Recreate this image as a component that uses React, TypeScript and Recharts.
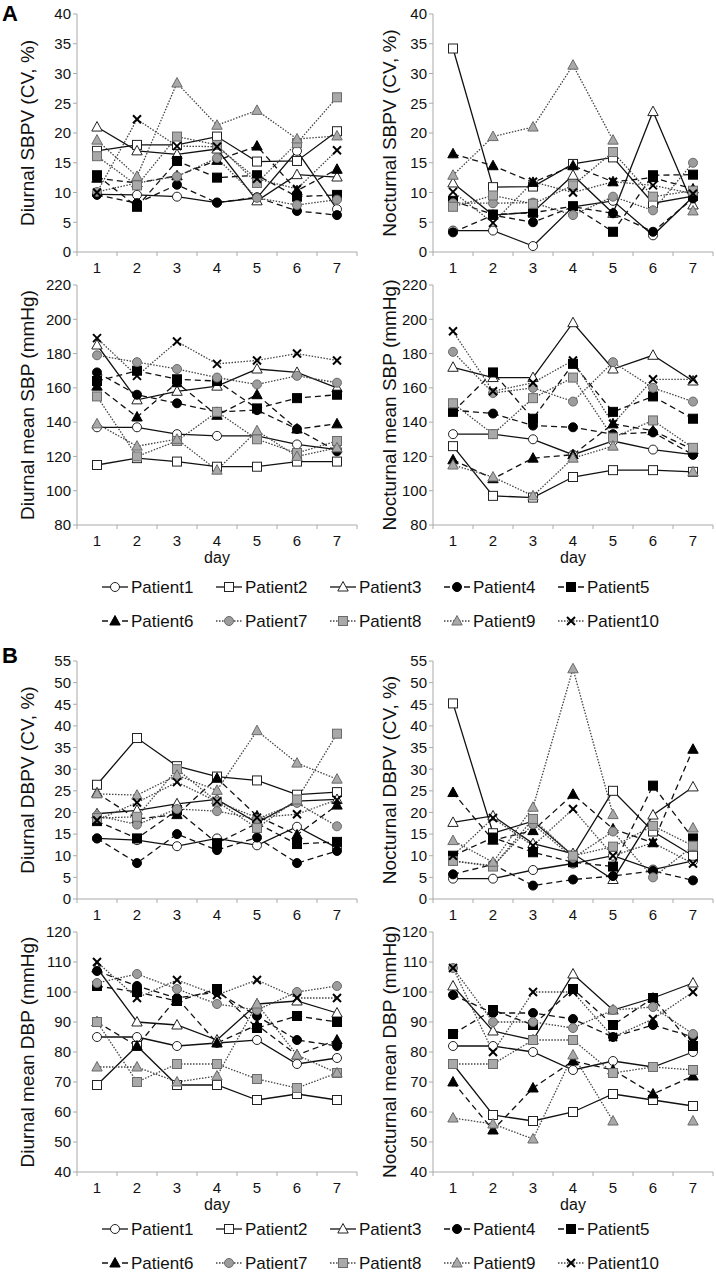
import React from "react";
import { Line, LineChart, XAxis, YAxis } from "recharts";

type Val = number | null;

const days = ["1", "2", "3", "4", "5", "6", "7"];
const patients = [
  "Patient1",
  "Patient2",
  "Patient3",
  "Patient4",
  "Patient5",
  "Patient6",
  "Patient7",
  "Patient8",
  "Patient9",
  "Patient10",
];

// A: systolic BP, rows = Patient1..Patient10, columns = day 1..7
const diurnalSBPV: Val[][] = [
  [9.7, 9.6, 9.3, 8.3, 9.1, 17.0, 7.2],
  [17.0, 18.0, 18.0, 19.4, 15.2, 15.3, 20.3],
  [21.0, 17.0, 16.4, 17.3, 8.6, 13.0, 12.6],
  [9.6, 8.2, 11.3, 8.3, 9.2, 6.9, 6.2],
  [12.9, 7.6, 15.3, 12.5, 12.9, 9.3, 9.6],
  [12.4, 11.6, 12.8, 15.4, 17.8, 10.3, 13.9],
  [10.1, 11.6, 12.7, 15.8, 9.1, 7.9, 8.8],
  [16.1, 11.2, 19.4, 18.0, 11.6, 18.3, 26.0],
  [18.8, 12.7, 28.4, 21.3, 23.8, 19.0, 19.5],
  [10.0, 22.3, 17.8, 17.7, 12.3, 10.6, 17.1],
];

const nocturnalSBPV: Val[][] = [
  [3.6, 3.6, 1.0, 7.6, 8.6, 2.8, 9.3],
  [34.2, 10.9, 11.0, 14.8, 15.9, 8.2, 9.4],
  [11.6, 6.2, 6.7, 12.9, 6.5, 23.6, 7.9],
  [3.3, 6.2, 5.0, 7.6, 6.5, 3.4, 9.0],
  [8.6, 6.3, 6.6, 7.7, 3.4, 12.9, 13.0],
  [16.5, 14.5, 11.7, 14.5, 11.8, 12.5, 10.6],
  [8.2, 8.2, 8.3, 6.2, 9.3, 7.0, 15.0],
  [7.6, 9.5, 8.1, 11.2, 16.8, 9.3, 10.3],
  [12.9, 19.4, 21.0, 31.4, 18.8, null, 6.9],
  [10.1, 4.9, 11.8, 10.0, 11.8, 11.2, 9.8],
];

const diurnalMeanSBP: Val[][] = [
  [137, 137, 133, 132, 132, 127, 124],
  [115, 119, 117, 114, 114, 117, 117],
  [185, 153, 158, 161, 171, 169, 160],
  [169, 156, 151, 146, 147, 136, 123],
  [164, 170, 165, 164, 148, 154, 156],
  [161, 143, 163, 144, 156, 136, 139],
  [179, 175, 171, 166, 162, 167, 163],
  [155, 120, 129, 146, 130, 122, 129],
  [139, 126, 130, 112, 135, 120, 125],
  [189, 167, 187, 174, 176, 180, 176],
];

const nocturnalMeanSBP: Val[][] = [
  [133, 133, 130, 121, 129, 124, 121],
  [126, 97, 96, 108, 112, 112, 111],
  [172, 166, 166, 198, 171, 179, 164],
  [147, 145, 138, 137, 133, 134, 121],
  [146, 169, 142, 174, 146, 155, 142],
  [118, 107, 119, 121, 139, 135, 124],
  [181, 157, 160, 152, 175, 160, 152],
  [151, 133, 154, 166, 131, 141, 125],
  [115, 108, 97, 119, 126, null, 111],
  [193, 158, 163, 176, 139, 165, 165],
];

// B: diastolic BP
const diurnalDBPV: Val[][] = [
  [14.0, 13.6, 12.2, 14.0, 12.4, 16.7, 11.8],
  [26.4, 37.2, 30.7, 28.3, 27.4, 24.1, 24.7],
  [19.7, 20.5, 22.0, 23.0, 17.6, 22.6, 23.0],
  [14.0, 8.3, 15.0, 11.3, 14.2, 8.3, 11.1],
  [18.0, 14.0, 20.5, 12.9, 17.5, 12.7, 13.2],
  [24.5, 18.5, 19.5, 27.9, 19.2, 14.8, 21.7],
  [19.3, 17.2, 20.8, 20.3, 18.5, 22.2, 16.8],
  [18.7, 19.0, 30.0, 22.5, 16.4, 23.0, 38.2],
  [24.3, 24.0, 28.6, 25.1, 38.9, 31.4, 27.7],
  [18.2, 22.3, 27.0, 22.5, 18.8, 19.6, 22.9],
];

const nocturnalDBPV: Val[][] = [
  [4.7, 4.7, 6.7, 8.2, 10.0, 6.8, 8.8],
  [45.2, 15.2, 18.0, 10.0, 25.0, 15.6, 10.0],
  [17.7, 19.2, 12.8, 10.5, 4.5, 19.4, 25.9],
  [5.7, 8.0, 3.1, 4.5, 5.3, 6.5, 4.3],
  [10.0, 14.2, 10.8, 8.5, 7.5, 26.2, 14.0],
  [24.6, 13.6, 15.8, 24.2, 16.2, 13.0, 34.6],
  [8.8, 7.7, 17.3, 9.5, 15.6, 5.0, 12.2],
  [8.8, 7.5, 18.5, 10.0, 12.1, 16.9, 12.3],
  [13.5, 8.5, 21.2, 53.2, 19.5, null, 16.4],
  [10.0, 18.7, 12.3, 20.8, 10.0, 13.0, 8.2],
];

const diurnalMeanDBP: Val[][] = [
  [85, 85, 82, 83, 84, 76, 78],
  [69, 82, 69, 69, 64, 66, 64],
  [108, 90, 89, 84, 96, 97, 93],
  [107, 102, 98, 100, 92, 84, 82],
  [102, 100, 97, 101, 88, 92, 90],
  [90, 82, 98, 83, 89, 79, 84],
  [103, 106, 101, 96, 94, 100, 102],
  [90, 70, 76, 76, 71, 68, 73],
  [75, 75, 70, 72, 96, 79, 73],
  [110, 98, 104, 99, 104, 98, 98],
];

const nocturnalMeanDBP: Val[][] = [
  [82, 82, 80, 74, 77, 75, 80],
  [76, 59, 57, 60, 66, 64, 62],
  [102, 87, 84, 106, 94, 98, 103],
  [99, 93, 93, 91, 85, 89, 85],
  [86, 94, 89, 101, 89, 98, 82],
  [70, 54, 68, 77, 74, 66, 72],
  [108, 90, 90, 88, 94, 95, 86],
  [76, 76, 84, 84, 73, 75, 74],
  [58, 56, 51, 79, 57, null, 57],
  [108, 80, 100, 100, 85, 91, 100],
];

const cvTicksA = [0, 5, 10, 15, 20, 25, 30, 35, 40];
const meanTicksA = [80, 100, 120, 140, 160, 180, 200, 220];
const cvTicksB = [0, 5, 10, 15, 20, 25, 30, 35, 40, 45, 50, 55];
const meanTicksB = [40, 50, 60, 70, 80, 90, 100, 110, 120];

const FONT = "'Liberation Sans', Arial, Helvetica, sans-serif";
const AXIS = "#aaaaaa";
const SOLID = "";
const DASH = "6 4";
const DOT = "1.5 1.5";

type Shape = "circle" | "square" | "triangle" | "cross";
type Style = { shape: Shape; fill: string; stroke: string; dash: string; line: string };

const styles: Style[] = [
  { shape: "circle", fill: "#ffffff", stroke: "#222", dash: SOLID, line: "#111" },
  { shape: "square", fill: "#ffffff", stroke: "#222", dash: SOLID, line: "#111" },
  { shape: "triangle", fill: "#ffffff", stroke: "#222", dash: SOLID, line: "#111" },
  { shape: "circle", fill: "#000000", stroke: "#000", dash: DASH, line: "#111" },
  { shape: "square", fill: "#000000", stroke: "#000", dash: DASH, line: "#111" },
  { shape: "triangle", fill: "#000000", stroke: "#000", dash: DASH, line: "#111" },
  { shape: "circle", fill: "#9c9c9c", stroke: "#6a6a6a", dash: DOT, line: "#444" },
  { shape: "square", fill: "#a9a9a9", stroke: "#6a6a6a", dash: DOT, line: "#444" },
  { shape: "triangle", fill: "#a9a9a9", stroke: "#6a6a6a", dash: DOT, line: "#444" },
  { shape: "cross", fill: "#000000", stroke: "#000", dash: DOT, line: "#444" },
];

const marker = (s: Style, cx: number, cy: number, key?: string) => {
  if (s.shape === "circle")
    return <circle key={key} cx={cx} cy={cy} r={4.5} fill={s.fill} stroke={s.stroke} strokeWidth={1} />;
  if (s.shape === "square")
    return <rect key={key} x={cx - 4.5} y={cy - 4.5} width={9} height={9} fill={s.fill} stroke={s.stroke} strokeWidth={1} />;
  if (s.shape === "triangle")
    return (
      <polygon
        key={key}
        points={`${cx},${cy - 5.5} ${cx - 5.2},${cy + 4} ${cx + 5.2},${cy + 4}`}
        fill={s.fill}
        stroke={s.stroke}
        strokeWidth={1}
      />
    );
  return (
    <g key={key} stroke="#000" strokeWidth={2}>
      <line x1={cx - 4} y1={cy - 4} x2={cx + 4} y2={cy + 4} />
      <line x1={cx - 4} y1={cy + 4} x2={cx + 4} y2={cy - 4} />
    </g>
  );
};

const DayTick = (props: any) => {
  const { x, y, payload, index } = props;
  const ay = y - 10;
  return (
    <g>
      <line x1={x - 20} x2={x - 20} y1={ay} y2={ay + 4} stroke={AXIS} />
      {index === days.length - 1 && <line x1={x + 20} x2={x + 20} y1={ay} y2={ay + 4} stroke={AXIS} />}
      <text x={x} y={y} dy="0.71em" textAnchor="middle" fontSize={15} fill="#111" fontFamily={FONT}>
        {payload.value}
      </text>
    </g>
  );
};

interface PanelProps {
  values: Val[][];
  title: string;
  domain: [number, number];
  ticks: number[];
  left: number;
  top: number;
  plotHeight: number;
  titleX: number;
  showDay?: boolean;
}

const Panel: React.FC<PanelProps> = ({ values, title, domain, ticks, left, top, plotHeight, titleX, showDay }) => {
  const rows = days.map((d, i) => {
    const r: Record<string, any> = { day: d };
    values.forEach((s, j) => {
      r[`p${j + 1}`] = s[i];
    });
    return r;
  });
  const xh = showDay ? 48 : 30;
  return (
    <div style={{ position: "absolute", left, top }}>
      <LineChart width={360} height={14 + plotHeight + xh} data={rows} margin={{ top: 14, right: 3, bottom: 0, left: 0 }}>
        <XAxis
          dataKey="day"
          padding={{ left: 20, right: 20 }}
          axisLine={{ stroke: AXIS }}
          tickLine={false}
          tickSize={4}
          tickMargin={6}
          interval={0}
          height={xh}
          tick={DayTick}
          label={
            showDay
              ? { value: "day", position: "insideBottom", offset: 10, fontSize: 16, fill: "#111", fontFamily: FONT }
              : undefined
          }
        />
        <YAxis
          type="number"
          width={77}
          domain={domain}
          ticks={ticks}
          interval={0}
          axisLine={{ stroke: AXIS }}
          tickLine={{ stroke: AXIS }}
          tickSize={4}
          tickMargin={2}
          tick={{ fontSize: 15, fill: "#111", fontFamily: FONT }}
          label={{
            value: title,
            angle: -90,
            position: "insideLeft",
            offset: titleX,
            fontSize: 19,
            fill: "#111",
            fontFamily: FONT,
            style: { textAnchor: "middle" },
          }}
        />
        {styles.map((s, j) => (
          <Line
            key={patients[j]}
            name={patients[j]}
            dataKey={`p${j + 1}`}
            type="linear"
            stroke={s.line}
            strokeWidth={1.3}
            strokeDasharray={s.dash || undefined}
            connectNulls={false}
            isAnimationActive={false}
            activeDot={false}
            dot={(p: any) =>
              p.cx == null || p.cy == null || p.value == null ? (
                <g key={`d${j}-${p.index}`} />
              ) : (
                marker(s, p.cx, p.cy, `d${j}-${p.index}`)
              )
            }
          />
        ))}
      </LineChart>
    </div>
  );
};

const legendX = [102, 216, 330, 444, 558];

const Legend: React.FC<{ top: number }> = ({ top }) => (
  <svg style={{ position: "absolute", left: 0, top }} width={716} height={62}>
    {styles.map((s, j) => {
      const x = legendX[j % 5];
      const y = j < 5 ? 16 : 50;
      return (
        <g key={patients[j]}>
          <line x1={x} x2={x + 26} y1={y} y2={y} stroke={s.line} strokeWidth={1.3} strokeDasharray={s.dash || undefined} />
          {marker(s, x + 13, y)}
          <text x={x + 29} y={y} dy="0.35em" fontSize={17} fill="#111" fontFamily={FONT}>
            {patients[j]}
          </text>
        </g>
      );
    })}
  </svg>
);

const panelLetter = (letter: string, top: number) => (
  <div style={{ position: "absolute", left: 2, top, fontFamily: FONT, fontWeight: "bold", fontSize: 22 }}>{letter}</div>
);

export default function App() {
  return (
    <div style={{ position: "absolute", left: 0, top: 0, width: 716, height: 1275, background: "#fff", fontFamily: FONT }}>
      {panelLetter("A", 1)}
      <Panel values={diurnalSBPV} title="Diurnal SBPV (CV, %)" domain={[0, 40]} ticks={cvTicksA} left={0} top={0} plotHeight={238} titleX={27} />
      <Panel values={nocturnalSBPV} title="Nocturnal SBPV (CV, %)" domain={[0, 40]} ticks={cvTicksA} left={356} top={0} plotHeight={238} titleX={33} />
      <Panel values={diurnalMeanSBP} title="Diurnal mean SBP (mmHg)" domain={[80, 220]} ticks={meanTicksA} left={0} top={271} plotHeight={240} titleX={27} showDay />
      <Panel values={nocturnalMeanSBP} title="Nocturnal mean SBP (mmHg)" domain={[80, 220]} ticks={meanTicksA} left={356} top={271} plotHeight={240} titleX={33} showDay />
      <Legend top={571} />
      {panelLetter("B", 643)}
      <Panel values={diurnalDBPV} title="Diurnal DBPV (CV, %)" domain={[0, 55]} ticks={cvTicksB} left={0} top={647} plotHeight={238} titleX={27} />
      <Panel values={nocturnalDBPV} title="Nocturnal DBPV (CV, %)" domain={[0, 55]} ticks={cvTicksB} left={356} top={647} plotHeight={238} titleX={33} />
      <Panel values={diurnalMeanDBP} title="Diurnal mean DBP (mmHg)" domain={[40, 120]} ticks={meanTicksB} left={0} top={918} plotHeight={240} titleX={27} showDay />
      <Panel values={nocturnalMeanDBP} title="Nocturnal mean DBP (mmHg)" domain={[40, 120]} ticks={meanTicksB} left={356} top={918} plotHeight={240} titleX={33} showDay />
      <Legend top={1213} />
    </div>
  );
}
